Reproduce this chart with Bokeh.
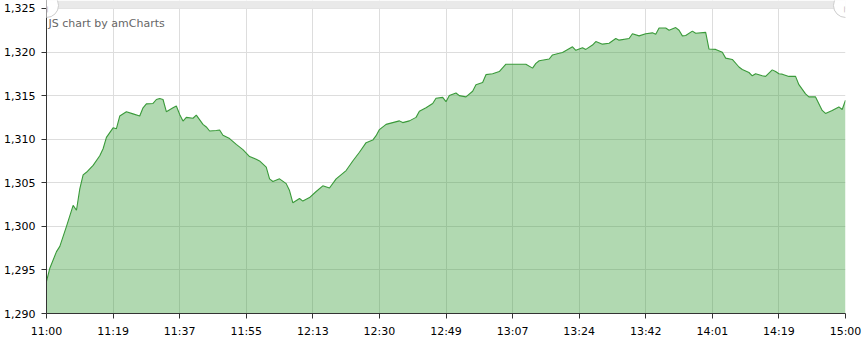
from bokeh.plotting import figure
from bokeh.models import Range1d, BoxAnnotation, Label, NumeralTickFormatter
from bokeh.core.properties import value
from bokeh.embed import file_html
from bokeh.resources import INLINE

# minutes after 11:00 (category position) and price values
minutes = [0, 1, 3, 4, 6, 8, 9, 10, 11, 12, 14, 16, 17, 18, 20, 21, 22, 24, 26, 28,
           29, 30, 32, 33, 34, 35, 36, 38, 39, 40, 41, 42, 44, 45, 47, 48, 49, 51, 52, 53,
           55, 57, 59, 61, 63, 64, 66, 67, 68, 70, 72, 73, 74, 76, 77, 79, 81, 83, 85, 87,
           90, 92, 94, 96, 98, 99, 100, 102, 104, 106, 107, 109, 111, 112, 114, 116, 117, 119, 120, 121,
           123, 124, 126, 128, 129, 131, 132, 134, 136, 138, 140, 142, 144, 146, 147, 148, 151, 152, 154, 155,
           158, 159, 161, 162, 164, 165, 167, 169, 171, 172, 175, 176, 178, 180, 182, 183, 184, 186, 187, 189,
           190, 191, 192, 194, 195, 198, 199, 201, 203, 204, 206, 208, 209, 211, 212, 213, 215, 216, 218, 219,
           220, 221, 223, 225, 226, 228, 229, 231, 233, 234, 236, 238, 239, 240]
prices = [1293.7, 1295.2, 1297.1, 1297.7, 1300.0, 1302.4, 1301.85, 1304.3, 1305.9, 1306.2,
          1307.0, 1308.1, 1308.9, 1310.2, 1311.3, 1311.2, 1312.65, 1313.15, 1312.9, 1312.65,
          1313.6, 1314.05, 1314.1, 1314.55, 1314.66, 1314.55, 1313.15, 1313.6, 1313.8, 1312.84,
          1312.08, 1312.5, 1312.4, 1312.76, 1311.7, 1311.4, 1310.94, 1311.0, 1311.05, 1310.45,
          1310.07, 1309.4, 1308.8, 1308.0, 1307.7, 1307.5, 1306.8, 1305.45, 1305.15, 1305.45,
          1304.9, 1304.1, 1302.7, 1303.2, 1302.9, 1303.3, 1304.0, 1304.65, 1304.4, 1305.45,
          1306.4, 1307.5, 1308.5, 1309.6, 1309.9, 1310.4, 1311.1, 1311.7, 1311.9, 1312.1,
          1311.9, 1312.1, 1312.5, 1313.2, 1313.6, 1314.1, 1314.7, 1314.8, 1314.3, 1315.0,
          1315.3, 1315.0, 1314.85, 1315.5, 1316.25, 1316.5, 1317.4, 1317.5, 1317.76, 1318.6,
          1318.6, 1318.6, 1318.6, 1318.15, 1318.7, 1319.0, 1319.2, 1319.66, 1319.85, 1319.95,
          1320.6, 1320.2, 1320.5, 1320.3, 1320.8, 1321.2, 1320.9, 1321.0, 1321.55, 1321.36,
          1321.55, 1322.1, 1321.85, 1322.1, 1322.2, 1322.05, 1322.76, 1322.75, 1322.5, 1322.8,
          1322.5, 1321.85, 1321.9, 1322.4, 1322.15, 1322.25, 1320.34, 1320.3, 1319.97, 1319.3,
          1319.15, 1318.28, 1318.0, 1317.65, 1317.27, 1317.5, 1317.27, 1317.2, 1317.95, 1317.76,
          1317.5, 1317.46, 1317.2, 1317.2, 1316.25, 1315.2, 1314.85, 1314.85, 1313.3, 1312.95,
          1313.3, 1313.7, 1313.4, 1314.47]

x_tick_positions = [0, 20, 40, 60, 80, 100, 120, 140, 160, 180, 200, 220, 240]
x_tick_labels = ["11:00", "11:19", "11:37", "11:55", "12:13", "12:30", "12:49",
                 "13:07", "13:24", "13:42", "14:01", "14:19", "15:00"]
y_ticks = [1290, 1295, 1300, 1305, 1310, 1315, 1320, 1325]

FONT = "DejaVu Sans"
px_per_unit = 308 / 35.0          # vertical pixels per price unit
y_top = y_ticks[-1] + 8 / px_per_unit

p = figure(width=865, height=340, output_backend="svg", toolbar_location=None,
           x_range=Range1d(x_tick_positions[0], x_tick_positions[-1]),
           y_range=Range1d(y_ticks[0], y_top),
           min_border_left=46, min_border_right=20, min_border_top=0, min_border_bottom=24)
p.outline_line_color = None
p.background_fill_color = "white"
p.border_fill_color = "white"

# axes
p.xaxis.ticker = x_tick_positions
p.xaxis.major_label_overrides = {k: v for k, v in zip(x_tick_positions, x_tick_labels)}
p.yaxis.ticker = y_ticks
p.yaxis.formatter = NumeralTickFormatter(format="0,0")
for ax in (p.xaxis[0], p.yaxis[0]):
    ax.axis_line_color = "#333333"
    ax.major_tick_line_color = "#333333"
    ax.minor_tick_line_color = None
    ax.major_tick_in = 0
    ax.major_tick_out = 5
    ax.major_label_text_font = FONT
    ax.major_label_text_font_size = "11px"
    ax.major_label_text_color = "#000000"
p.yaxis.major_label_standoff = 6
p.xaxis.major_label_standoff = 6

p.xgrid.grid_line_color = "#dddddd"
p.ygrid.grid_line_color = "#dddddd"

# area + line
p.varea(x=minutes, y1=y_ticks[0], y2=prices, fill_color="#3ca03c", fill_alpha=0.4)
p.line(minutes, prices, line_color="#3a9a3a", line_width=1.1)

# scrollbar look at the top
p.add_layout(BoxAnnotation(left=x_tick_positions[0], right=x_tick_positions[-1], bottom=y_ticks[-1],
                           fill_color="#e9e9e9", fill_alpha=1.0, line_color=None))
for xg in (x_tick_positions[0], x_tick_positions[-1]):
    p.add_layout(Label(x=xg, y=y_top - 5 / px_per_unit, text="||", text_font=FONT,
                       text_font_size="6px", text_color="#aaaaaa",
                       text_align="center", text_baseline="middle",
                       background_fill_color="white", background_fill_alpha=1.0,
                       border_line_color="#cccccc", border_line_alpha=1.0,
                       border_radius=12,
                       padding=dict(left=10, right=10, top=12, bottom=5)))

p.text(x=[x_tick_positions[0]], y=[y_top], text=["JS chart by amCharts"],
       x_offset=2, y_offset=23, text_baseline="alphabetic",
       text_font=value(FONT), text_font_size="11px", text_color="#666666")

open("out.html", "w").write(file_html(p, INLINE))
